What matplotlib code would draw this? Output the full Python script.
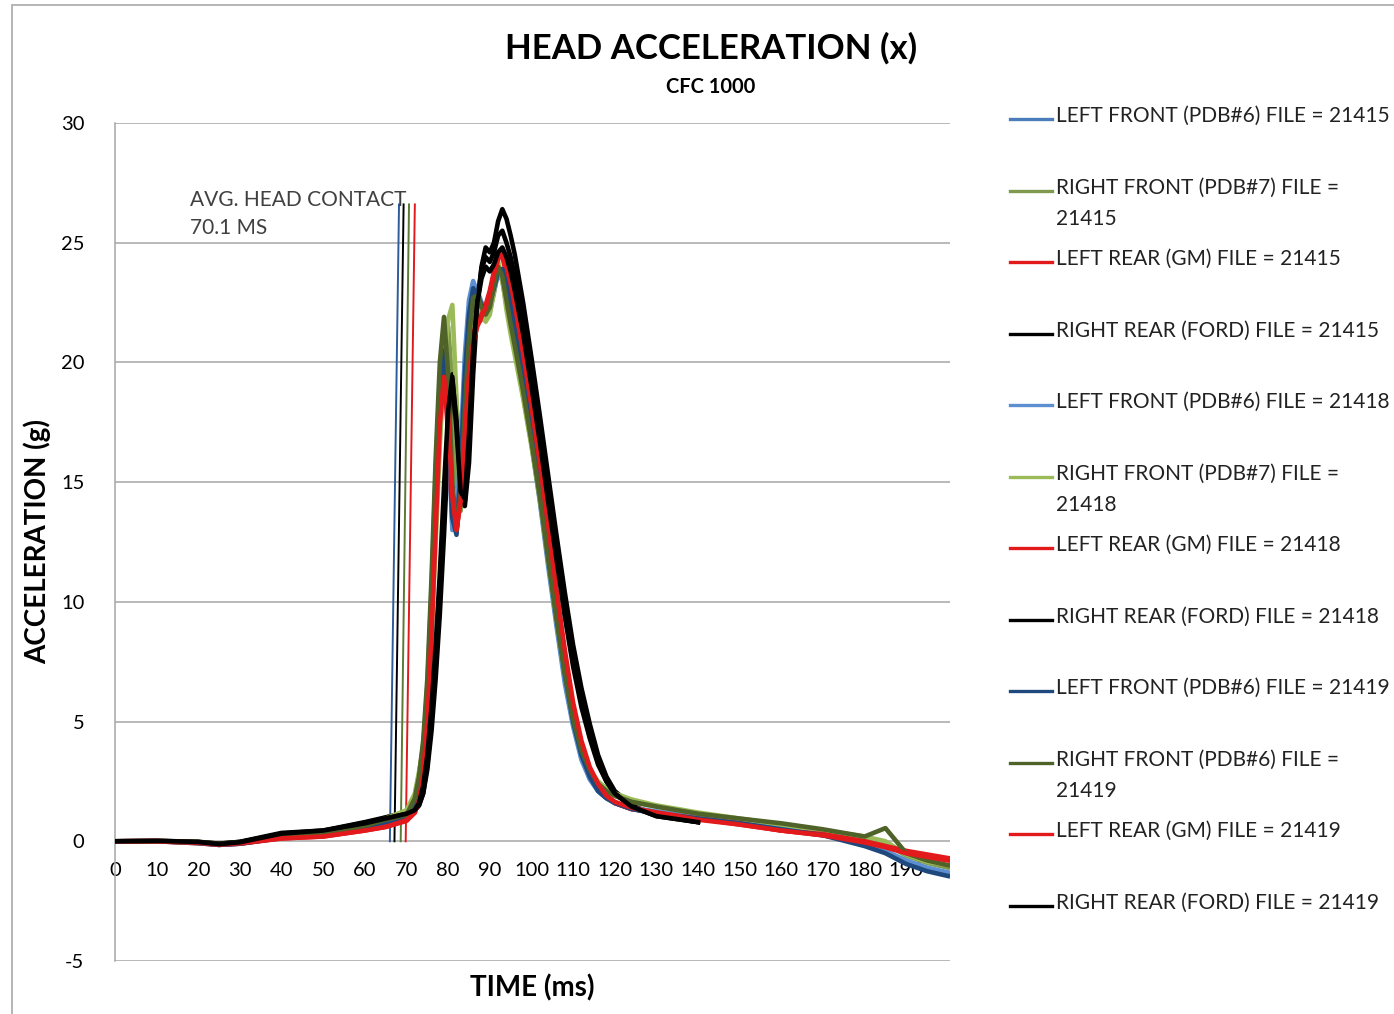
import numpy as np
import matplotlib
matplotlib.use('Agg')
import matplotlib.pyplot as plt
from matplotlib.lines import Line2D
from matplotlib.patches import Rectangle

plt.rcParams['font.family'] = ['Lato', 'DejaVu Sans']
plt.rcParams['axes.unicode_minus'] = False

# time base (ms)
time_ms = [0, 10, 20, 25, 30, 40, 50, 60, 65, 70,
           72, 73, 74, 75, 76, 77, 78, 79, 80, 81, 82, 83, 84, 85, 86, 87, 88, 89, 90, 91, 92, 93, 94, 95, 96,
           98, 100, 102, 104, 106, 108, 110, 112, 114, 116, 118, 120,
           124, 130, 140, 150, 160, 170, 180, 185, 190, 195, 200]

nan = np.nan

# head acceleration (g)
lf_21415 = [0.0, 0.0, -0.05, -0.15, -0.1, 0.15, 0.3, 0.6, 0.8, 1.0,
            1.4, 2.2, 3.6, 6.0, 10.0, 15.0, 19.0, 20.6, 17.5, 13.2, 13.0, 16.0, 19.8, 22.3, 23.3, 23.0, 22.5, 22.3, 22.6, 23.2, 23.9, 23.8, 23.0, 22.1, 21.1,
            19.0, 16.8, 14.5, 11.8, 9.2, 6.8, 4.9, 3.5, 2.6, 2.1, 1.8, 1.6,
            1.35, 1.2, 1.0, 0.8, 0.55, 0.3, -0.15, -0.45, -0.9, -1.2, -1.4]
rf_21415 = [0.0, 0.0, -0.05, -0.1, -0.05, 0.2, 0.35, 0.7, 1.0, 1.2,
            1.9, 2.8, 4.0, 6.0, 9.5, 13.5, 17.5, 20.3, 21.5, 19.0, 15.0, 13.8, 15.5, 19.0, 21.8, 22.6, 22.2, 21.9, 22.1, 22.9, 23.8, 23.4, 22.4, 21.4, 20.5,
            18.6, 16.6, 14.3, 11.7, 9.2, 6.9, 5.0, 3.7, 2.9, 2.4, 2.1, 1.9,
            1.65, 1.45, 1.15, 0.9, 0.7, 0.45, 0.15, -0.1, -0.6, -0.9, -1.1]
lr_21415 = [0.0, 0.0, -0.08, -0.15, -0.1, 0.12, 0.2, 0.45, 0.6, 0.85,
            1.2, 1.8, 3.0, 5.2, 9.0, 13.5, 17.8, 19.7, 17.5, 14.0, 12.9, 14.6, 17.6, 19.8, 21.0, 21.6, 21.8, 22.2, 22.8, 23.6, 24.5, 24.6, 24.0, 23.2, 22.3,
            20.3, 18.0, 15.6, 13.0, 10.3, 7.8, 5.6, 4.0, 3.0, 2.3, 1.9, 1.6,
            1.35, 1.2, 0.95, 0.7, 0.45, 0.25, -0.05, -0.25, -0.45, -0.6, -0.75]
rr_21415 = [0.0, 0.02, -0.02, -0.1, -0.02, 0.35, 0.45, 0.8, 1.0, 1.2,
            1.3, 1.5, 2.0, 3.0, 4.6, 6.8, 9.5, 12.8, 16.5, 19.5, 18.2, 15.2, 14.0, 15.8, 19.5, 22.3, 24.0, 24.8, 24.6, 25.0, 25.9, 26.4, 26.0, 25.3, 24.5,
            22.5, 20.2, 17.8, 15.3, 12.8, 10.4, 8.2, 6.4, 4.9, 3.6, 2.7, 2.1,
            1.5, 1.1, 0.8, nan, nan, nan, nan, nan, nan, nan, nan]
lf_21418 = [0.0, 0.02, -0.05, -0.12, -0.08, 0.18, 0.32, 0.62, 0.82, 1.05,
            1.5, 2.4, 3.9, 6.5, 10.5, 15.5, 19.3, 20.4, 17.0, 13.0, 13.4, 16.5, 20.3, 22.6, 23.4, 22.9, 22.3, 22.1, 22.4, 23.0, 23.7, 23.6, 22.8, 21.9, 20.9,
            18.8, 16.6, 14.2, 11.5, 9.0, 6.6, 4.8, 3.4, 2.6, 2.1, 1.8, 1.6,
            1.4, 1.25, 1.0, 0.8, 0.55, 0.3, -0.1, -0.4, -0.8, -1.1, -1.3]
rf_21418 = [0.0, 0.02, -0.03, -0.1, -0.05, 0.2, 0.35, 0.7, 0.95, 1.3,
            2.0, 2.9, 3.9, 5.6, 8.5, 12.5, 16.5, 19.8, 21.8, 22.4, 18.5, 14.5, 14.8, 18.0, 21.0, 22.3, 22.0, 21.7, 22.0, 23.0, 24.2, 23.5, 22.2, 21.2, 20.3,
            18.5, 16.5, 14.3, 11.8, 9.3, 7.0, 5.1, 3.8, 3.0, 2.5, 2.2, 2.0,
            1.75, 1.5, 1.2, 0.95, 0.7, 0.45, 0.2, 0.0, -0.55, -0.85, -1.0]
lr_21418 = [0.0, 0.02, -0.05, -0.12, -0.1, 0.15, 0.22, 0.48, 0.62, 0.9,
            1.3, 1.9, 3.2, 5.6, 9.5, 14.0, 18.0, 19.5, 17.0, 13.6, 13.0, 15.0, 18.0, 20.0, 21.2, 21.7, 22.0, 22.4, 23.0, 23.8, 24.6, 24.4, 23.7, 22.9, 22.0,
            20.0, 17.7, 15.3, 12.7, 10.0, 7.5, 5.4, 3.9, 2.9, 2.3, 1.9, 1.6,
            1.35, 1.2, 0.95, 0.75, 0.45, 0.3, 0.0, -0.2, -0.4, -0.55, -0.7]
rr_21418 = [0.0, 0.0, -0.03, -0.1, -0.03, 0.3, 0.42, 0.78, 0.95, 1.15,
            1.3, 1.5, 2.0, 3.2, 5.0, 7.4, 10.5, 14.0, 17.5, 19.3, 17.6, 14.8, 14.2, 16.5, 20.2, 22.6, 23.9, 24.4, 24.2, 24.6, 25.3, 25.5, 25.0, 24.4, 23.6,
            21.7, 19.5, 17.1, 14.6, 12.1, 9.7, 7.5, 5.8, 4.4, 3.3, 2.5, 2.0,
            1.45, 1.05, 0.8, nan, nan, nan, nan, nan, nan, nan, nan]
lf_21419 = [0.0, 0.0, -0.08, -0.15, -0.1, 0.15, 0.3, 0.58, 0.8, 1.0,
            1.4, 2.1, 3.4, 5.8, 9.6, 14.6, 18.8, 20.5, 17.8, 13.5, 12.8, 15.6, 19.5, 22.0, 23.1, 22.8, 22.4, 22.2, 22.5, 23.1, 23.8, 23.9, 23.2, 22.3, 21.3,
            19.2, 17.0, 14.7, 12.0, 9.4, 7.0, 5.0, 3.6, 2.7, 2.1, 1.8, 1.6,
            1.35, 1.15, 0.95, 0.75, 0.5, 0.25, -0.2, -0.5, -0.95, -1.25, -1.45]
rf_21419 = [0.0, 0.0, -0.05, -0.12, -0.05, 0.2, 0.35, 0.65, 0.9, 1.1,
            1.8, 2.7, 4.2, 6.8, 11.0, 16.0, 20.0, 21.9, 19.5, 15.0, 13.0, 14.5, 18.0, 21.0, 22.7, 22.8, 22.3, 22.0, 22.3, 23.2, 24.0, 23.6, 22.6, 21.6, 20.7,
            18.8, 16.7, 14.4, 11.8, 9.3, 7.0, 5.1, 3.8, 3.0, 2.4, 2.1, 1.9,
            1.65, 1.45, 1.15, 0.95, 0.75, 0.5, 0.2, 0.55, -0.5, -0.8, -1.0]
lr_21419 = [0.0, 0.0, -0.06, -0.14, -0.08, 0.12, 0.2, 0.45, 0.6, 0.88,
            1.2, 1.7, 2.8, 5.0, 8.6, 13.0, 17.4, 19.4, 17.8, 14.4, 13.0, 14.2, 17.0, 19.5, 20.8, 21.5, 21.9, 22.3, 22.9, 23.7, 24.3, 24.7, 24.2, 23.4, 22.5,
            20.5, 18.2, 15.8, 13.2, 10.5, 8.0, 5.8, 4.2, 3.1, 2.4, 1.9, 1.65,
            1.4, 1.2, 0.9, 0.7, 0.45, 0.25, -0.05, -0.25, -0.5, -0.65, -0.8]
rr_21419 = [0.0, 0.02, -0.03, -0.12, -0.04, 0.32, 0.45, 0.75, 0.95, 1.15,
            1.3, 1.6, 2.3, 3.6, 5.6, 8.2, 11.2, 14.8, 18.0, 19.4, 17.2, 14.6, 14.3, 17.0, 20.5, 22.5, 23.5, 24.0, 23.8, 24.1, 24.6, 24.8, 24.4, 23.8, 23.0,
            21.2, 19.0, 16.7, 14.2, 11.8, 9.4, 7.3, 5.6, 4.3, 3.2, 2.5, 2.0,
            1.45, 1.05, 0.8, nan, nan, nan, nan, nan, nan, nan, nan]

labels = ['LEFT FRONT (PDB#6) FILE = 21415', 'RIGHT FRONT (PDB#7) FILE =\n21415',
          'LEFT REAR (GM) FILE = 21415', 'RIGHT REAR (FORD) FILE = 21415',
          'LEFT FRONT (PDB#6) FILE = 21418', 'RIGHT FRONT (PDB#7) FILE =\n21418',
          'LEFT REAR (GM) FILE = 21418', 'RIGHT REAR (FORD) FILE = 21418',
          'LEFT FRONT (PDB#6) FILE = 21419', 'RIGHT FRONT (PDB#6) FILE =\n21419',
          'LEFT REAR (GM) FILE = 21419', 'RIGHT REAR (FORD) FILE = 21419']
series = [lf_21415, rf_21415, lr_21415, rr_21415,
          lf_21418, rf_21418, lr_21418, rr_21418,
          lf_21419, rf_21419, lr_21419, rr_21419]
colors = ['#4A7EBB', '#7F9A4E', '#E31A1C', '#000000',
          '#5B8FCF', '#9BBB59', '#E31A1C', '#000000',
          '#1F497D', '#4F6228', '#E31A1C', '#000000']

# head contact marker lines: (time at 0 g, time at top)
contact_bottom = [66.0, 67.1, 68.6, 69.8]
contact_top = [68.2, 69.3, 70.6, 72.0]
contact_height = 26.6
contact_colors = ['#2E5C9A', '#000000', '#5A7A35', '#E31A1C']

fig = plt.figure(figsize=(13.94, 10.14), dpi=100)
ax = fig.add_axes([115 / 1394, 1 - 961 / 1014, 835 / 1394, 838 / 1014])

grid_c = '#A6A6A6'
for yv in range(-5, 31, 5):
    ax.axhline(yv, color=grid_c, lw=1.1, zorder=0)

for x0, x1, c in zip(contact_bottom, contact_top, contact_colors):
    ax.plot([x0, x1], [0, contact_height], color=c, lw=1.4, zorder=2)

for s, c in zip(series, colors):
    ax.plot(time_ms, s, color=c, lw=3.3, zorder=3, solid_joinstyle='round')

ax.set_xlim(0, 200.5)
ax.set_ylim(-5, 30)
ax.set_xticks(range(0, 200, 10))
ax.set_yticks(range(-5, 31, 5))
ax.tick_params(axis='both', length=0, labelsize=14.5, colors='#000000')
ax.tick_params(axis='y', pad=22)
ax.tick_params(axis='x', pad=15)
ax.spines['bottom'].set_position(('data', 0))
ax.spines['bottom'].set_visible(False)
ax.spines['top'].set_visible(False)
ax.spines['right'].set_visible(False)
ax.spines['left'].set_color(grid_c)
ax.spines['left'].set_linewidth(1.1)

ax.text(18, 26.2, 'AVG. HEAD CONTACT\n70.1 MS', fontsize=15, color='#404040',
        va='center', ha='left', linespacing=1.55)

ax.text(0.5, -0.032, 'TIME (ms)', transform=ax.transAxes, ha='center', va='center',
        fontsize=20, fontweight='bold')
fig.text(37 / 1394, 1 - 542 / 1014, 'ACCELERATION (g)', rotation=90, ha='center', va='center',
         fontsize=20, fontweight='bold')
fig.text(711 / 1394, 1 - 48 / 1014, 'HEAD ACCELERATION (x)', ha='center', va='center',
         fontsize=25, fontweight='bold')
fig.text(711 / 1394, 1 - 87 / 1014, 'CFC 1000', ha='center', va='center',
         fontsize=14.5, fontweight='bold')

# legend drawn by hand to keep Excel-like spacing
for i, (lab, c) in enumerate(zip(labels, colors)):
    y = 119 + i * 71.5
    yf = 1 - y / 1014
    fig.add_artist(Line2D([1010 / 1394, 1052 / 1394], [yf, yf], color=c, lw=2.4,
                          transform=fig.transFigure))
    fig.text(1056 / 1394, 1 - (y - 13) / 1014, lab, ha='left', va='top',
             fontsize=15, color='#222222', linespacing=1.7)

fig.add_artist(Rectangle((12 / 1394, -0.05), 1.2, 1 - 5 / 1014 + 0.05,
                         transform=fig.transFigure, fill=False, edgecolor='#B0B0B0', lw=1.3))

fig.savefig('out.png', dpi=100)
